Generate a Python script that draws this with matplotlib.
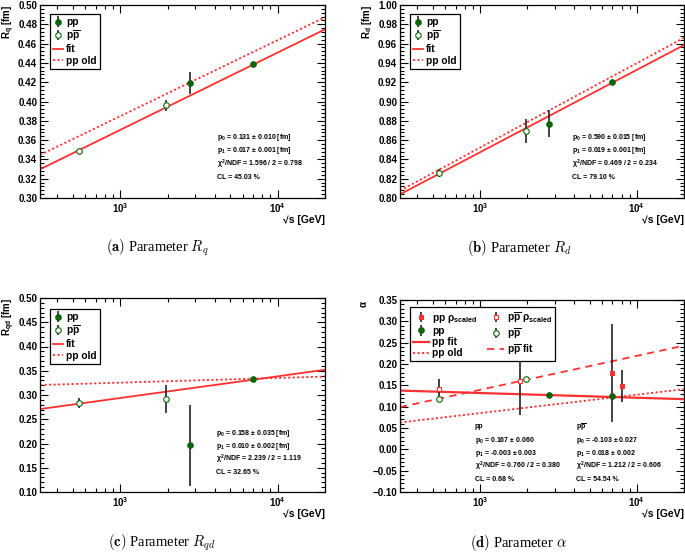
import matplotlib
matplotlib.use("Agg")
import matplotlib.pyplot as plt
from matplotlib.ticker import MultipleLocator, FuncFormatter, LogLocator, NullFormatter, LogFormatterMathtext

plt.rcParams['font.family'] = ['Liberation Sans', 'DejaVu Sans']
plt.rcParams['font.weight'] = 'bold'
plt.rcParams['mathtext.fontset'] = 'custom'
plt.rcParams['mathtext.rm'] = 'Liberation Sans:bold'
plt.rcParams['mathtext.it'] = 'Liberation Sans:bold'
plt.rcParams['mathtext.bf'] = 'Liberation Sans:bold'
plt.rcParams['mathtext.sf'] = 'Liberation Sans:bold'

# ---- data ----
sqrts_pp = [2760, 7000]
sqrts_ppbar = [546, 1960]
line_x = [310, 20000]  # fit lines are straight on log x: values at both ends

# (a) R_q
Rq_pp = [0.4195, 0.4385]
Rq_pp_err = [0.0115, 0.0015]
Rq_ppbar = [0.349, 0.396]
Rq_ppbar_err = [0.002, 0.006]
Rq_fit = [0.3297, 0.4748]
Rq_old = [0.3446, 0.4873]
Rq_stats = ["p$_0$ = 0.131 ± 0.010 [fm]", "p$_1$ = 0.017 ± 0.001 [fm]",
            "$\\chi^2$/NDF = 1.596 / 2 = 0.798", "CL = 45.03 %"]

# (b) R_d
Rd_pp = [0.877, 0.9205]
Rd_pp_err = [0.0138, 0.0015]
Rd_ppbar = [0.826, 0.8694]
Rd_ppbar_err = [0.004, 0.012]
Rd_fit = [0.8038, 0.9585]
Rd_old = [0.8076, 0.966]
Rd_stats = ["p$_0$ = 0.590 ± 0.015 [fm]", "p$_1$ = 0.019 ± 0.001 [fm]",
            "$\\chi^2$/NDF = 0.469 / 2 = 0.234", "CL = 79.10 %"]

# (c) R_qd
Rqd_pp = [0.196, 0.333]
Rqd_pp_err = [0.0835, 0.003]
Rqd_ppbar = [0.2835, 0.292]
Rqd_ppbar_err = [0.01, 0.029]
Rqd_fit = [0.271, 0.352]
Rqd_old = [0.3206, 0.338]
Rqd_stats = ["p$_0$ = 0.158 ± 0.035 [fm]", "p$_1$ = 0.010 ± 0.002 [fm]",
             "$\\chi^2$/NDF = 2.239 / 2 = 1.119", "CL = 32.65 %"]

# (d) alpha
alpha_pp = [0.127, 0.126]
alpha_pp_err = [0.002, 0.002]
alpha_ppbar = [0.1176, 0.1644]
alpha_ppbar_err = [0.002, 0.002]
sqrts_pp_rho = [7000, 8000]
alpha_pp_rho = [0.1784, 0.1487]
alpha_pp_rho_err = [0.1155, 0.038]
sqrts_ppbar_rho = [546, 1815]
alpha_ppbar_rho = [0.1424, 0.1604]
alpha_ppbar_rho_err = [0.022, 0.081]
alpha_pp_fit = [0.1377, 0.1176]
alpha_ppbar_fit = [0.0989, 0.243]
alpha_old = [0.0629, 0.141]
alpha_stats_pp = ["pp", "p$_0$ = 0.167 ± 0.060", "p$_1$ = -0.003 ± 0.003",
                  "$\\chi^2$/NDF = 0.760 / 2 = 0.380", "CL = 0.68 %"]
alpha_stats_ppbar = ["p$\\overline{\\mathrm{p}}$", "p$_0$ = -0.103 ± 0.027", "p$_1$ = 0.018 ± 0.002",
                     "$\\chi^2$/NDF = 1.212 / 2 = 0.606", "CL = 54.54 %"]

PPBAR = "p$\\overline{\\mathrm{p}}$"
GREEN = '#0b650b'
RED = '#ff3030'
EBAR = '#222222'
DOT = (0, (1.2, 1.3))

W, H = 685, 559
fig = plt.figure(figsize=(W / 100, H / 100), dpi=100)


def add_ax(x0, y0, x1, y1):
    return fig.add_axes([x0 / W, 1 - y1 / H, (x1 - x0) / W, (y1 - y0) / H])


def style(ax, ylim, major, minor):
    ax.set_xscale('log')
    ax.set_xlim(line_x)
    ax.set_ylim(ylim)
    ax.yaxis.set_major_locator(MultipleLocator(major))
    ax.yaxis.set_minor_locator(MultipleLocator(minor))
    ax.yaxis.set_major_formatter(FuncFormatter(
        lambda v, p: f"{round(v, 4) + 0.0:.2f}".replace('-', '\u2212')))
    ax.xaxis.set_major_locator(LogLocator(base=10, numticks=10))
    ax.xaxis.set_minor_locator(LogLocator(base=10, subs=range(2, 10), numticks=20))
    ax.xaxis.set_major_formatter(LogFormatterMathtext())
    ax.xaxis.set_minor_formatter(NullFormatter())
    ax.tick_params(which='both', direction='in', top=True, right=True, labelsize=7, pad=2)
    ax.tick_params(which='major', length=5.5, width=0.8)
    ax.tick_params(which='minor', length=2.8, width=0.8)
    for s in ax.spines.values():
        s.set_linewidth(0.9)
    ax.text(1.0, -0.115, "√s [GeV]", transform=ax.transAxes, ha='right', va='center', fontsize=7.5)


def points(ax, x, y, e, filled, color=GREEN, marker='o', ms=4, label=None):
    return ax.errorbar(x, y, yerr=e, fmt=marker, ms=ms, mfc=color if filled else 'white',
                       mec=color, mew=0.8, ecolor=EBAR, elinewidth=1.2, capsize=0, label=label, zorder=3)


def stats(ax, x, y0, lines, dy):
    for i, t in enumerate(lines):
        ax.text(x, y0 - i * dy, t, transform=ax.transAxes, fontsize=5.0, va='center', ha='left')


def legend(ax, handles, labels, y_top, ncol=1, hl=1.0, **kw):
    lg = ax.legend(handles, labels, loc='upper left', bbox_to_anchor=(0.035, y_top), ncol=ncol,
                   fontsize=7.3, frameon=True, fancybox=False, framealpha=1, edgecolor='black',
                   borderpad=0.3, labelspacing=0.12, handlelength=hl, handletextpad=0.3,
                   borderaxespad=0, **kw)
    lg.get_frame().set_linewidth(0.9)


def ylabel(ax, text, x=-0.11):
    ax.text(x, 1.0, text, transform=ax.transAxes, rotation=90, ha='center', va='top', fontsize=7)


def simple_panel(ax, pp, pp_e, pb, pb_e, fit, old, st, sx, sy, dy, y_top):
    l1, = ax.plot(line_x, fit, color=RED, lw=1.3, zorder=2)
    l2, = ax.plot(line_x, old, color=RED, lw=1.3, ls=DOT, zorder=2)
    h1 = points(ax, sqrts_pp, pp, pp_e, True)
    h2 = points(ax, sqrts_ppbar, pb, pb_e, False)
    stats(ax, sx, sy, st, dy)
    legend(ax, [h1, h2, l1, l2], ['pp', PPBAR, 'fit', 'pp old'], y_top)


# (a)
ax = add_ax(40, 5, 325, 198)
style(ax, (0.30, 0.50), 0.02, 0.004)
simple_panel(ax, Rq_pp, Rq_pp_err, Rq_ppbar, Rq_ppbar_err, Rq_fit, Rq_old, Rq_stats,
             0.621, 0.316, 0.07, 0.953)
ylabel(ax, "R$_\\mathrm{q}$ [fm]")

# (b)
ax = add_ax(400, 5, 684, 198)
style(ax, (0.80, 1.00), 0.02, 0.004)
simple_panel(ax, Rd_pp, Rd_pp_err, Rd_ppbar, Rd_ppbar_err, Rd_fit, Rd_old, Rd_stats,
             0.604, 0.316, 0.07, 0.953)
ylabel(ax, "R$_\\mathrm{d}$ [fm]", -0.115)

# (c)
ax = add_ax(40, 298, 325, 492)
style(ax, (0.10, 0.50), 0.05, 0.01)
simple_panel(ax, Rqd_pp, Rqd_pp_err, Rqd_ppbar, Rqd_ppbar_err, Rqd_fit, Rqd_old, Rqd_stats,
             0.618, 0.304, 0.067, 0.943)
ylabel(ax, "R$_\\mathrm{qd}$ [fm]")

# (d)
ax = add_ax(400, 300, 684, 492)
style(ax, (-0.10, 0.35), 0.05, 0.01)
l_ppfit, = ax.plot(line_x, alpha_pp_fit, color=RED, lw=1.6, zorder=2)
l_pbfit, = ax.plot(line_x, alpha_ppbar_fit, color=RED, lw=1.3, ls=(0, (4, 3)), zorder=2)
l_old, = ax.plot(line_x, alpha_old, color=RED, lw=1.3, ls=DOT, zorder=2)
h_pp = points(ax, sqrts_pp, alpha_pp, alpha_pp_err, True)
h_pb = points(ax, sqrts_ppbar, alpha_ppbar, alpha_ppbar_err, False)
h_pprho = points(ax, sqrts_pp_rho, alpha_pp_rho, alpha_pp_rho_err, True, color=RED, marker='s', ms=3.3)
h_pbrho = points(ax, sqrts_ppbar_rho, alpha_ppbar_rho, alpha_ppbar_rho_err, False, color=RED, marker='s', ms=3.3)
legend(ax, [h_pprho, h_pp, l_ppfit, l_old, h_pbrho, h_pb, l_pbfit],
       ["pp $\\rho_{\\mathrm{scaled}}$", "pp", "pp fit", "pp old",
        PPBAR + " $\\rho_{\\mathrm{scaled}}$", PPBAR, PPBAR + " fit"],
       0.963, ncol=2, hl=1.6, columnspacing=1.0)
stats(ax, 0.263, 0.339, alpha_stats_pp, 0.069)
stats(ax, 0.618, 0.339, alpha_stats_ppbar, 0.069)
ylabel(ax, "$\\alpha$", -0.125)

# captions
caps = [(157, 248, "$\\mathbf{(a)}$ Parameter $R_q$"),
        (519, 248, "$\\mathbf{(b)}$ Parameter $R_d$"),
        (162, 543, "$\\mathbf{(c)}$ Parameter $R_{qd}$"),
        (518, 543, "$\\mathbf{(d)}$ Parameter $\\alpha$")]
for cx, cy, t in caps:
    fig.text(cx / W, 1 - cy / H, t, ha='center', va='center', fontsize=10.5,
             family='Liberation Serif', weight='normal', math_fontfamily='cm')

fig.savefig("out.png", dpi=100)
